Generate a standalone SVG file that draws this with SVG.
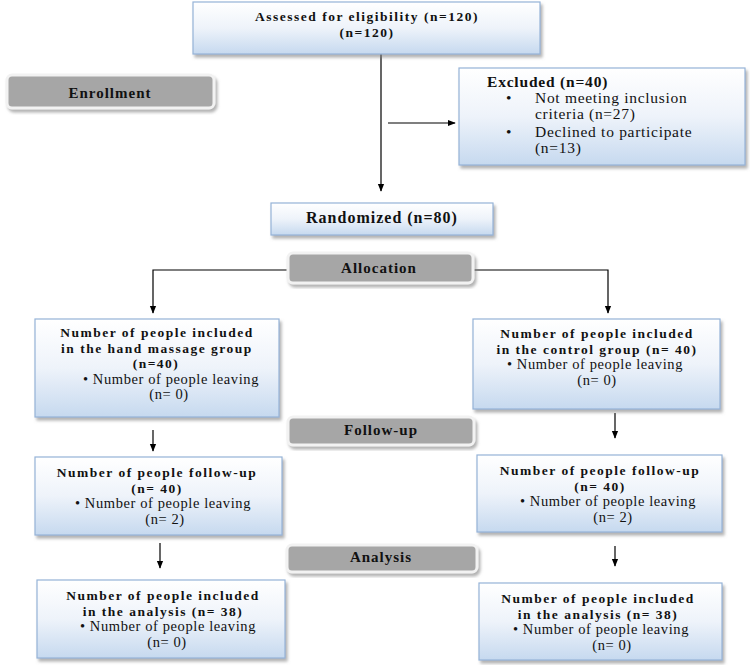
<svg xmlns="http://www.w3.org/2000/svg" width="750" height="665" viewBox="0 0 750 665">
<defs>
<linearGradient id="bg" x1="0" y1="0" x2="0" y2="1">
<stop offset="0" stop-color="#ffffff"/>
<stop offset="0.5" stop-color="#eef3fa"/>
<stop offset="1" stop-color="#c6d9ef"/>
</linearGradient>
<filter id="sh" x="-10%" y="-10%" width="120%" height="130%">
<feDropShadow dx="2" dy="3" stdDeviation="1.5" flood-color="#808080" flood-opacity="0.6"/>
</filter>
<marker id="ah" viewBox="0 0 10 10" refX="9" refY="5" markerWidth="8" markerHeight="8" orient="auto" markerUnits="userSpaceOnUse">
<path d="M0,1 L10,5 L0,9 z" fill="#000"/>
</marker>
</defs>
<style>
.box{fill:url(#bg);stroke:#95b3d7;stroke-width:1.2;filter:url(#sh)}
.stage{fill:#a6a6a6;stroke:#f2f2f2;stroke-width:3;filter:url(#sh)}
text{font-family:"Liberation Serif","Times New Roman",serif;fill:#111}
.b{font-weight:bold;font-size:13.5px;letter-spacing:1.5px}
.s{font-weight:bold;font-size:15px;letter-spacing:1px}
.r{font-size:14.5px;letter-spacing:0.6px}
.x{font-size:15.5px;letter-spacing:0.7px}
.xb{font-weight:bold;font-size:15.5px;letter-spacing:0.8px}
.c{text-anchor:middle}
.ln{stroke:#000;stroke-width:1.2;fill:none}
</style>
<rect width="750" height="665" fill="#fff"/>

<g id="connectors">
<line class="ln" x1="381" y1="54" x2="381" y2="191" marker-end="url(#ah)"/>
<line class="ln" x1="388" y1="123" x2="455" y2="123" marker-end="url(#ah)"/>
<polyline class="ln" points="288,270 153,270 153,313" marker-end="url(#ah)"/>
<polyline class="ln" points="473,270 608,270 608,313" marker-end="url(#ah)"/>
<line class="ln" x1="153" y1="430" x2="153" y2="451" marker-end="url(#ah)"/>
<line class="ln" x1="615" y1="413" x2="615" y2="438" marker-end="url(#ah)"/>
<line class="ln" x1="160" y1="543" x2="160" y2="568" marker-end="url(#ah)"/>
<line class="ln" x1="615" y1="546" x2="615" y2="566" marker-end="url(#ah)"/>
</g>

<g id="assessed">
<rect class="box" x="193" y="2" width="347" height="52"/>
<text class="b c" x="367" y="21">Assessed for eligibility  (n=120)</text>
<text class="b c" x="367" y="37">(n=120)</text>
</g>

<g id="enrollment">
<rect class="stage" x="7" y="75" width="207" height="33" rx="5"/>
<text class="s c" x="110" y="98">Enrollment</text>
</g>

<g id="excluded">
<rect class="box" x="459" y="68" width="286" height="97"/>
<text class="xb" x="487" y="87">Excluded (n=40)</text>
<text class="x" x="506" y="103">•</text>
<text class="x" x="535" y="103">Not meeting inclusion</text>
<text class="x" x="535" y="119">criteria (n=27)</text>
<text class="x" x="506" y="137">•</text>
<text class="x" x="535" y="137">Declined to participate</text>
<text class="x" x="535" y="153">(n=13)</text>
</g>

<g id="randomized">
<rect class="box" x="271" y="203" width="222" height="32"/>
<text class="s c" x="382" y="223" style="font-size:16px">Randomized (n=80)</text>
</g>

<g id="allocation">
<rect class="stage" x="288" y="253" width="185" height="30" rx="5"/>
<text class="s c" x="379" y="273">Allocation</text>
</g>

<g id="massage-group">
<rect class="box" x="35" y="319" width="244" height="98"/>
<text class="b c" x="157" y="337">Number of people included</text>
<text class="b c" x="157" y="352.5">in the hand massage group</text>
<text class="b c" x="156" y="368">(n=40)</text>
<text class="r c" x="171" y="383.5">• Number of people leaving</text>
<text class="r c" x="169" y="399">(n= 0)</text>
</g>

<g id="control-group">
<rect class="box" x="473" y="319" width="247" height="90"/>
<text class="b c" x="597" y="338">Number of people included</text>
<text class="b c" x="597" y="353.5">in the control group (n= 40)</text>
<text class="r c" x="595" y="369">• Number of people leaving</text>
<text class="r c" x="597" y="384.5">(n= 0)</text>
</g>

<g id="followup">
<rect class="stage" x="288" y="417" width="186" height="28" rx="5"/>
<text class="s c" x="381" y="435">Follow-up</text>
</g>

<g id="massage-followup">
<rect class="box" x="35" y="457" width="247" height="78"/>
<text class="b c" x="157" y="477">Number of people follow-up</text>
<text class="b c" x="157" y="492.5">(n= 40)</text>
<text class="r c" x="163" y="508">• Number of people leaving</text>
<text class="r c" x="165" y="523.5">(n= 2)</text>
</g>

<g id="control-followup">
<rect class="box" x="477" y="455" width="245" height="77"/>
<text class="b c" x="600" y="475">Number of people follow-up</text>
<text class="b c" x="600" y="490.5">(n= 40)</text>
<text class="r c" x="608" y="506">• Number of people leaving</text>
<text class="r c" x="613" y="521.5">(n= 2)</text>
</g>

<g id="analysis">
<rect class="stage" x="287" y="545" width="190" height="27" rx="5"/>
<text class="s c" x="381" y="562">Analysis</text>
</g>

<g id="massage-analysis">
<rect class="box" x="37" y="580" width="248" height="78"/>
<text class="b c" x="163" y="600">Number of people included</text>
<text class="b c" x="163" y="615.5">in the analysis (n= 38)</text>
<text class="r c" x="168" y="631">• Number of people leaving</text>
<text class="r c" x="167" y="646.5">(n= 0)</text>
</g>

<g id="control-analysis">
<rect class="box" x="479" y="583" width="243" height="77"/>
<text class="b c" x="598" y="603">Number of people included</text>
<text class="b c" x="598" y="618.5">in the analysis (n= 38)</text>
<text class="r c" x="601" y="634">• Number of people leaving</text>
<text class="r c" x="612" y="649.5">(n= 0)</text>
</g>
</svg>
